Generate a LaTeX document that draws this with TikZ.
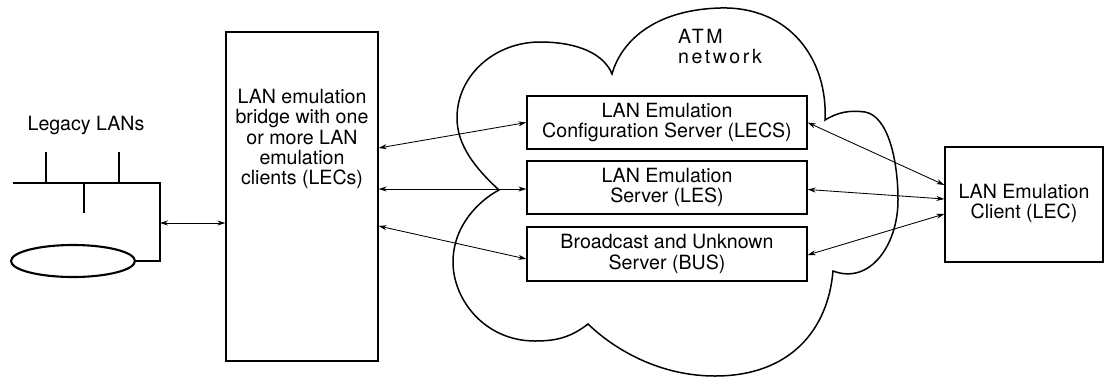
\documentclass[tikz,border=0pt]{standalone}
\usepackage{fontspec}
\setmainfont{TeX Gyre Heros}
\newfontfamily\trackedfont{TeX Gyre Heros}[LetterSpace=13]
\usetikzlibrary{arrows.meta,shapes.geometric}

\begin{document}
\begin{tikzpicture}[x=1pt,y=-1pt,
  txt/.style={font=\fontsize{19.6}{20.3}\selectfont},
  box/.style={draw, line width=1.3pt, inner sep=0pt, txt},
  link/.style={line width=0.85pt,
    {Stealth[length=8pt,width=5pt]}-{Stealth[length=8pt,width=5pt]}},
  lan/.style={line width=2.3pt},
  cloudline/.style={line width=1.5pt, line join=miter}]

\useasboundingbox (0,0) rectangle (1109,376);

% ATM cloud outline
\coordinate (c1) at (499,190);
\draw[cloudline] (c1)
  .. controls (475,168) and (457,145) .. (457,118)
  .. controls (457,75) and (495,42) .. (540,42)
  .. controls (578,42) and (604,54) .. (612,74)
  .. controls (620,45) and (650,10) .. (720,8)
  .. controls (790,6) and (828,60) .. (825,120)
  .. controls (838,112) and (850,110) .. (865,112)
  .. controls (888,116) and (898,160) .. (898,200)
  .. controls (898,245) and (870,285) .. (833,271)
  .. controls (828,330) and (790,376) .. (715,376)
  .. controls (660,376) and (615,350) .. (588,324)
  .. controls (570,338) and (555,341) .. (535,341)
  .. controls (485,341) and (453,300) .. (453,262)
  .. controls (453,225) and (480,200) .. (c1) -- cycle;

\node[anchor=north west, inner sep=0pt, align=left,
      font=\trackedfont\fontsize{19.6}{20.3}\selectfont] (atm) at (678,29)
  {ATM\\network};

% legacy LAN segments
\node[txt] (legacy) at (86,125) {Legacy LANs};
\coordinate (busL) at (13,183);
\coordinate (busR) at (160,183);
\coordinate (drop) at (160,261);
\coordinate (tapA) at (46,152);
\coordinate (tapB) at (119,152);
\coordinate (tapC) at (84,213);
\coordinate (lanport) at (160,223);
\node[draw, ellipse, line width=2.1pt, minimum width=124pt, minimum height=32pt,
      inner sep=0pt] (ring) at (73,261) {};
\draw[lan] (busL) -- (busR) -- (drop) -- (ring.east);
\draw[lan] (tapA) -- (tapA |- busR);
\draw[lan] (tapB) -- (tapB |- busR);
\draw[lan] (tapC) -- (tapC |- busR);

% bridge
\node[box, minimum width=152pt, minimum height=329pt] (bridge) at (302,196.5) {};
\node[txt, align=center] (bridgetext) at (302,139)
  {LAN emulation\\bridge with one\\or more LAN\\emulation\\clients (LECs)};

% servers
\node[box, minimum width=280pt, minimum height=53pt, align=center] (lecs)
  at (667,122.5) {LAN Emulation\\Configuration Server (LECS)};
\node[box, minimum width=280pt, minimum height=53pt, align=center] (les)
  at (667,187.5) {LAN Emulation\\Server (LES)};
\node[box, minimum width=280pt, minimum height=54pt, align=center] (bus)
  at (667,254) {Broadcast and Unknown\\Server (BUS)};

% client
\node[box, minimum width=158pt, minimum height=115pt, align=center,
      text depth=6pt] (lec)
  at (1024,204.5) {LAN Emulation\\Client (LEC)};

% connections
\draw[link] (lanport) -- (lanport -| bridge.west);
\draw[link] ([yshift=48.5pt]bridge.east) -- (lecs.west);
\draw[link] ([yshift=-1.5pt]bridge.east |- les.west) -- ([yshift=-1.5pt]les.west);
\draw[link] ([yshift=-29.5pt]bridge.east) -- ([yshift=-5pt]bus.west);
\draw[link] (lecs.east) -- ([yshift=19.5pt]lec.west);
\draw[link] ([yshift=-2pt]les.east) -- ([yshift=5.5pt]lec.west);
\draw[link] ([yshift=-1pt]bus.east) -- ([yshift=-9.5pt]lec.west);
\end{tikzpicture}
\end{document}
